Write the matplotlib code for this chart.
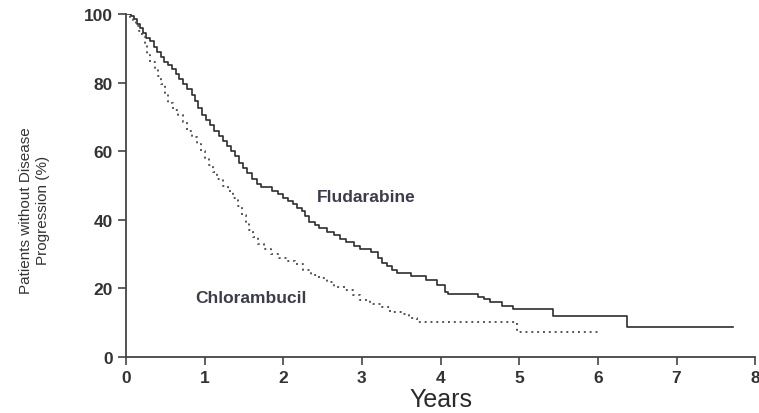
import matplotlib.pyplot as plt

plt.rcParams["font.family"] = ["Liberation Sans", "DejaVu Sans"]

# Kaplan-Meier estimates: time of each step (years) and survival after it (%)
flu_t = [0.00, 0.06, 0.10, 0.14, 0.18, 0.22, 0.26, 0.30, 0.35, 0.40, 0.44, 0.48,
         0.53, 0.58, 0.63, 0.68, 0.73, 0.78, 0.84, 0.88, 0.92, 0.97, 1.02, 1.07,
         1.12, 1.18, 1.23, 1.28, 1.33, 1.38, 1.44, 1.49, 1.54, 1.60, 1.66, 1.72,
         1.86, 1.93, 2.00, 2.06, 2.12, 2.18, 2.24, 2.28, 2.33, 2.40, 2.46, 2.55,
         2.65, 2.72, 2.80, 2.90, 2.98, 3.12, 3.20, 3.25, 3.32, 3.38, 3.45, 3.62,
         3.82, 3.95, 4.05, 4.10, 4.47, 4.55, 4.63, 4.78, 4.92, 5.43, 6.37, 7.72]
flu_s = [100, 99.5, 98.5, 97, 96, 94.5, 93, 92, 90.5, 89, 87.5, 86,
         85, 84, 82.5, 81, 79.5, 78, 76.5, 74.5, 72.5, 70.5, 69, 67.5,
         66, 64.5, 63, 61.5, 60, 58.5, 56.5, 55, 53.5, 52, 50.5, 49.5,
         48.5, 47.5, 46.5, 45.5, 44.5, 43.5, 42.5, 41, 39.5, 38.5, 37.5, 36.5,
         35.5, 34.5, 33.5, 32.5, 31.5, 30.5, 29, 27.5, 26.5, 25.5, 24.5, 23.5,
         22.5, 21, 19, 18.5, 17.5, 17, 16, 15, 14, 12, 8.7, 8.7]

chl_t = [0.00, 0.05, 0.09, 0.13, 0.17, 0.20, 0.24, 0.27, 0.30, 0.37, 0.41, 0.45,
         0.49, 0.53, 0.60, 0.66, 0.72, 0.78, 0.84, 0.90, 0.96, 1.01, 1.05, 1.10,
         1.16, 1.23, 1.30, 1.36, 1.42, 1.47, 1.52, 1.57, 1.62, 1.68, 1.76, 1.85,
         1.95, 2.05, 2.15, 2.25, 2.35, 2.45, 2.55, 2.65, 2.78, 2.88, 2.98, 3.10,
         3.25, 3.36, 3.50, 3.60, 3.70, 4.97, 6.00]
chl_s = [100, 99, 98, 96.5, 95, 93.5, 91, 88, 86, 84, 82, 79.5,
         77, 74, 72, 70.5, 68.5, 66, 64, 62, 60, 58, 56, 54,
         52, 50, 48.5, 46.5, 44, 41.5, 39, 37, 35, 33, 31.5, 30,
         29, 28, 27, 25.5, 24, 23, 22, 20.5, 19.5, 18, 16.5, 15.5,
         14.5, 13, 12.5, 11.5, 10.2, 7.2, 7.2]

x_ticks = [0, 1, 2, 3, 4, 5, 6, 7, 8]
y_ticks = [0, 20, 40, 60, 80, 100]

fig = plt.figure(figsize=(7.59, 4.14), dpi=100)
ax = fig.add_axes([0.166, 0.135, 0.829, 0.829])

ax.step(flu_t, flu_s, where="post", color="#2e2e2e", lw=1.2)
ax.step(chl_t, chl_s, where="post", color="#555555", lw=1.4,
        linestyle=(0, (1, 2)))

ax.text(2.43, 46.9, "Fludarabine", fontsize=12.5, fontweight="bold",
        color="#3c3c4c", va="center")
ax.text(0.88, 17.5, "Chlorambucil", fontsize=12.5, fontweight="bold",
        color="#3c3c4c", va="center")

ax.set_xlim(0, 8)
ax.set_ylim(0, 100)
ax.set_xticks(x_ticks)
ax.set_yticks(y_ticks)
ax.tick_params(direction="out", length=6, width=1.2, color="#444444",
               labelsize=12.5, labelcolor="#333333")
for lab in ax.get_xticklabels() + ax.get_yticklabels():
    lab.set_fontweight("bold")

for side in ["top", "right"]:
    ax.spines[side].set_visible(False)
for side in ["left", "bottom"]:
    ax.spines[side].set_color("#444444")
    ax.spines[side].set_linewidth(1.3)

ax.set_xlabel("Years", fontsize=18, color="#2a2a2a", labelpad=1)
ax.set_ylabel("Patients without Disease\nProgression (%)", fontsize=11,
              color="#333333", linespacing=1.25)
ax.yaxis.set_label_coords(-0.121, 0.43)

fig.savefig("out.png", dpi=100)
